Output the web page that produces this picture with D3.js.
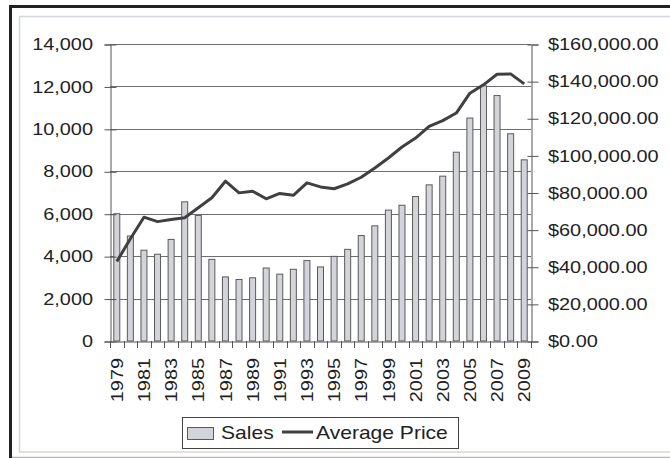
<!DOCTYPE html>
<html>
<head>
<meta charset="utf-8">
<script src="https://cdn.jsdelivr.net/npm/d3@7"></script>
<style>
  body { margin: 0; background: #fff; }
  text { font-family: "Liberation Sans", Arial, sans-serif; fill: #222; }
</style>
</head>
<body>
<div id="chart-area"></div>
<script>
// chart values
let years = ["1979","1980","1981","1982","1983","1984","1985","1986","1987","1988",
             "1989","1990","1991","1992","1993","1994","1995","1996","1997","1998",
             "1999","2000","2001","2002","2003","2004","2005","2006","2007","2008","2009"];
let sales = [6000, 4950, 4280, 4090, 4790, 6560, 5920, 3850, 3020, 2900,
             2980, 3440, 3150, 3380, 3790, 3490, 3990, 4320, 4970, 5430,
             6170, 6400, 6810, 7360, 7770, 8900, 10510, 12030, 11570, 9770, 8540];
let avgPrice = [42800, 55100, 66700, 64300, 65500, 66400, 71800, 77200, 86100, 79800,
                80700, 76600, 79500, 78500, 85200, 83000, 82000, 84600, 88200, 93200,
                98600, 104500, 109300, 115600, 118700, 122800, 133500, 138000, 143700, 143900, 138500];
let salesTicks = [0, 2000, 4000, 6000, 8000, 10000, 12000, 14000];
let priceTicks = [0, 20000, 40000, 60000, 80000, 100000, 120000, 140000, 160000];

let W = 670, H = 458;
let plotL = 110, plotR = 531, plotT = 44, plotB = 341;
let stretch = 1.17;

let svg = d3.select('#chart-area')
            .append('svg')
            .attr('width', W)
            .attr('height', H);

// frame
svg.append('rect').attr('x', 19.5).attr('y', 16.5).attr('width', 700).attr('height', 435.5)
   .attr('fill', 'none').attr('stroke', '#d4d6de').attr('stroke-width', 1.5);
svg.append('line').attr('x1', 9).attr('x2', 670).attr('y1', 6.5).attr('y2', 6.5)
   .attr('stroke', '#222').attr('stroke-width', 3);
svg.append('line').attr('x1', 10.5).attr('x2', 10.5).attr('y1', 5).attr('y2', 458)
   .attr('stroke', '#222').attr('stroke-width', 3);
svg.append('line').attr('x1', 12).attr('x2', 670).attr('y1', 457.5).attr('y2', 457.5)
   .attr('stroke', '#bfb3b3').attr('stroke-width', 1.5);

let x = d3.scaleBand()
          .domain(years)
          .range([plotL, plotR]);

let y = d3.scaleLinear()
          .domain([0, 14000])
          .range([plotB, plotT]);

let y2 = d3.scaleLinear()
           .domain([0, 160000])
           .range([plotB, plotT]);

// gridlines
svg.append('g').selectAll('line')
   .data(salesTicks.filter(d => d > 0))
   .enter().append('line')
   .attr('x1', plotL).attr('x2', plotR)
   .attr('y1', d => Math.round(y(d)) + 0.5)
   .attr('y2', d => Math.round(y(d)) + 0.5)
   .attr('stroke', '#6e6e6e').attr('stroke-width', 1);

// bars
svg.append('g').selectAll('rect')
   .data(sales)
   .enter().append('rect')
   .attr('x', (d, i) => x(years[i]) + x.bandwidth() / 2 - 3)
   .attr('y', d => y(d))
   .attr('width', 6)
   .attr('height', d => plotB - y(d))
   .attr('fill', '#d3d4da')
   .attr('stroke', '#5a5a5a')
   .attr('stroke-width', 1);

// left axis
let yAxis = d3.axisLeft(y).tickValues(salesTicks).tickSize(6).tickFormat(d3.format(','));
let gy = svg.append('g').attr('transform', 'translate(' + (plotL + 0.5) + ',0.5)').call(yAxis);
gy.select('.domain').attr('stroke', '#555');
gy.selectAll('.tick line').attr('stroke', '#555').attr('x2', -6).attr('x1', 6);
gy.selectAll('.tick text').remove();
svg.append('g').selectAll('text')
   .data(salesTicks)
   .enter().append('text')
   .attr('transform', d => 'translate(93,' + y(d) + ') scale(' + stretch + ',1)')
   .attr('text-anchor', 'end')
   .attr('dy', '0.36em')
   .attr('font-size', 17)
   .text(d => d3.format(',')(d));

// right axis
let y2Axis = d3.axisRight(y2).tickValues(priceTicks).tickSize(7);
let gy2 = svg.append('g').attr('transform', 'translate(' + (plotR + 0.5) + ',0.5)').call(y2Axis);
gy2.select('.domain').attr('stroke', '#555');
gy2.selectAll('.tick line').attr('stroke', '#555').attr('x1', -4).attr('x2', 7);
gy2.selectAll('.tick text').remove();
svg.append('g').selectAll('text')
   .data(priceTicks)
   .enter().append('text')
   .attr('transform', d => 'translate(548,' + y2(d) + ') scale(' + stretch + ',1)')
   .attr('dy', '0.36em')
   .attr('font-size', 17)
   .text(d => '$' + d3.format(',.2f')(d));

// bottom axis
let xAxis = d3.axisBottom(x).tickSize(0).tickFormat('');
let gx = svg.append('g').attr('transform', 'translate(0,' + (plotB + 0.5) + ')').call(xAxis);
gx.select('.domain').attr('stroke', '#555');
svg.append('g').selectAll('line')
   .data(years.concat(['end']))
   .enter().append('line')
   .attr('x1', (d, i) => Math.round(plotL + i * x.step()) + 0.5)
   .attr('x2', (d, i) => Math.round(plotL + i * x.step()) + 0.5)
   .attr('y1', plotB).attr('y2', plotB + 7)
   .attr('stroke', '#555');
svg.append('g').selectAll('text')
   .data(years.filter((d, i) => i % 2 == 0))
   .enter().append('text')
   .attr('transform', d => 'translate(' + (x(d) + x.bandwidth() / 2) + ',358) rotate(-90) scale(' + stretch + ',1)')
   .attr('text-anchor', 'end')
   .attr('dy', '0.36em')
   .attr('font-size', 17)
   .text(d => d);

// price line
let line = d3.line()
             .x((d, i) => x(years[i]) + x.bandwidth() / 2)
             .y(d => y2(d));
svg.append('path')
   .datum(avgPrice)
   .attr('d', line)
   .attr('fill', 'none')
   .attr('stroke', '#404040')
   .attr('stroke-width', 3)
   .attr('stroke-linejoin', 'round');

// legend
let lg = svg.append('g');
lg.append('rect').attr('x', 182.5).attr('y', 417.5).attr('width', 276).attr('height', 31)
  .attr('fill', '#fff').attr('stroke', '#444').attr('stroke-width', 1);
lg.append('rect').attr('x', 187.5).attr('y', 427.5).attr('width', 26).attr('height', 12)
  .attr('fill', '#d3d4da').attr('stroke', '#5a5a5a');
lg.append('text').attr('transform', 'translate(221,433) scale(' + stretch + ',1)')
  .attr('dy', '0.36em').attr('font-size', 18).text('Sales');
lg.append('line').attr('x1', 282).attr('x2', 313).attr('y1', 432).attr('y2', 432)
  .attr('stroke', '#404040').attr('stroke-width', 3);
lg.append('text').attr('transform', 'translate(316,433) scale(' + stretch + ',1)')
  .attr('dy', '0.36em').attr('font-size', 18).text('Average Price');
</script>
</body>
</html>
